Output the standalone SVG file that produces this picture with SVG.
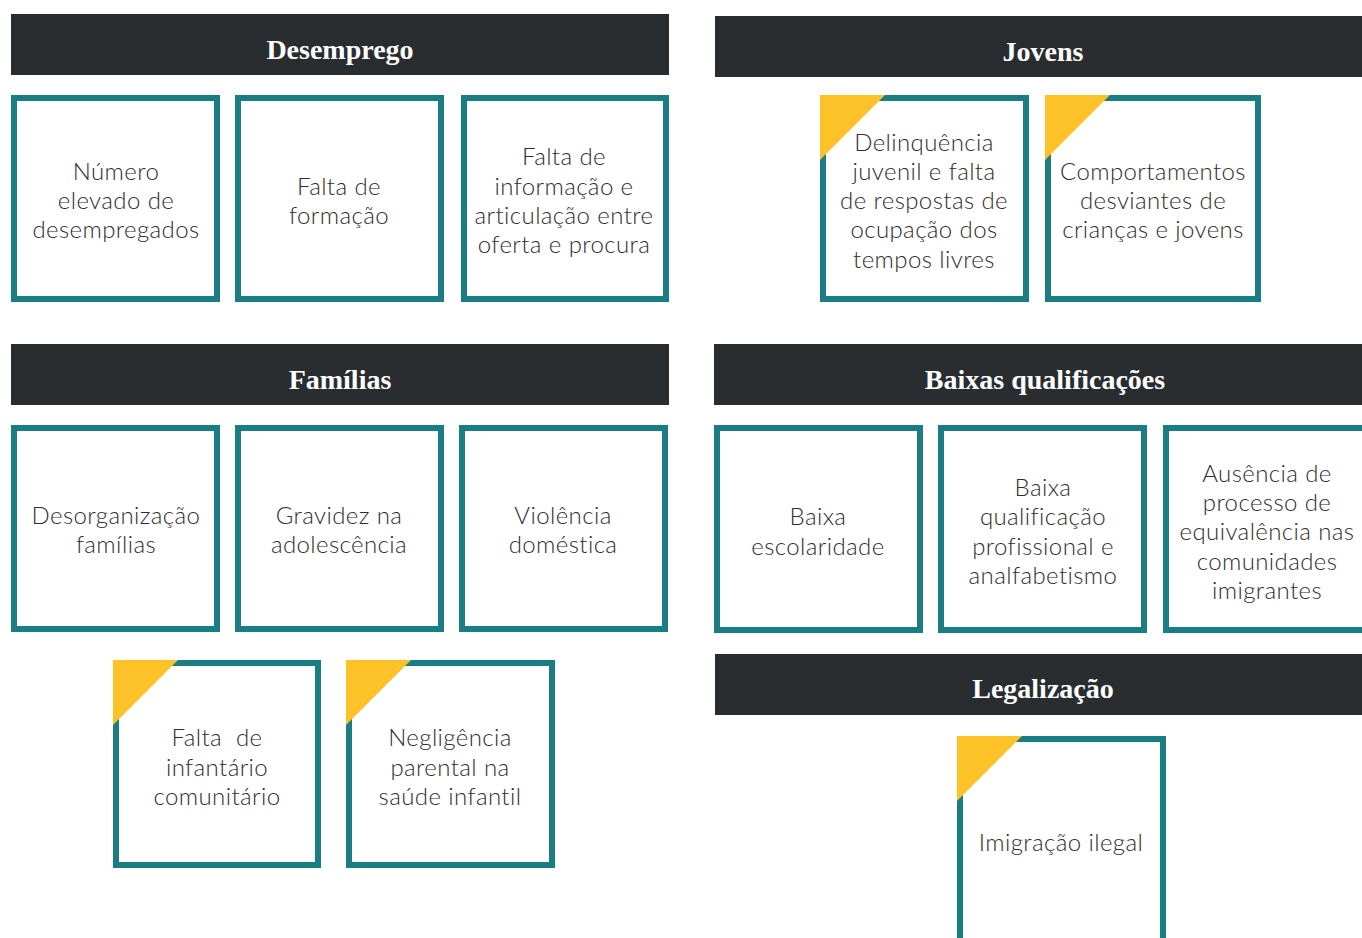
<svg xmlns="http://www.w3.org/2000/svg" width="1362" height="938" viewBox="0 0 1362 938">
<style>
.hdr{fill:#2a2d30}
.ht{font-family:"Liberation Serif",serif;font-weight:bold;font-size:28px;fill:#ffffff;text-anchor:middle}
.box{fill:#ffffff;stroke:#1b7d84;stroke-width:6}
.tri{fill:#fcc227}
.t{font-family:Lato,"Liberation Sans",sans-serif;font-weight:300;font-size:24px;letter-spacing:0.4px;fill:#2e2e2e;text-anchor:middle}
</style>
<rect width="1362" height="938" fill="#ffffff"/>
<g id="connectors"></g>

<g id="hdr-desemprego"><rect class="hdr" x="11" y="14" width="658" height="61"/><text class="ht" x="340" y="59">Desemprego</text></g>
<g id="hdr-jovens"><rect class="hdr" x="715" y="16" width="647" height="61"/><text class="ht" x="1043" y="61">Jovens</text></g>
<g id="hdr-familias"><rect class="hdr" x="11" y="344" width="658" height="61"/><text class="ht" x="340" y="389">Famílias</text></g>
<g id="hdr-baixas"><rect class="hdr" x="714" y="344" width="648" height="61"/><text class="ht" x="1045" y="389">Baixas qualificações</text></g>
<g id="hdr-legal"><rect class="hdr" x="715" y="654" width="647" height="61"/><text class="ht" x="1043" y="698">Legalização</text></g>

<g id="n-numero"><rect class="box" x="14" y="98" width="203" height="201"/>
<text class="t" x="116"><tspan x="116" y="180">Número</tspan><tspan x="116" y="209">elevado de</tspan><tspan x="116" y="238">desempregados</tspan></text></g>
<g id="n-formacao"><rect class="box" x="238" y="98" width="203" height="201"/>
<text class="t"><tspan x="339" y="195">Falta de</tspan><tspan x="339" y="224">formação</tspan></text></g>
<g id="n-informacao"><rect class="box" x="464" y="98" width="202" height="201"/>
<text class="t"><tspan x="564" y="165">Falta de</tspan><tspan x="564" y="195">informação e</tspan><tspan x="564" y="224">articulação entre</tspan><tspan x="564" y="253">oferta e procura</tspan></text></g>

<g id="n-delinquencia"><rect class="box" x="823" y="98" width="203" height="201"/><polygon class="tri" points="820,95 885,95 820,160"/>
<text class="t"><tspan x="924" y="151">Delinquência</tspan><tspan x="924" y="180">juvenil e falta</tspan><tspan x="924" y="209">de respostas de</tspan><tspan x="924" y="238">ocupação dos</tspan><tspan x="924" y="268">tempos livres</tspan></text></g>
<g id="n-comportamentos"><rect class="box" x="1048" y="98" width="210" height="201"/><polygon class="tri" points="1045,95 1110,95 1045,160"/>
<text class="t"><tspan x="1153" y="180">Comportamentos</tspan><tspan x="1153" y="209">desviantes de</tspan><tspan x="1153" y="238">crianças e jovens</tspan></text></g>

<g id="n-desorganizacao"><rect class="box" x="14" y="428" width="203" height="201"/>
<text class="t"><tspan x="116" y="524">Desorganização</tspan><tspan x="116" y="553">famílias</tspan></text></g>
<g id="n-gravidez"><rect class="box" x="238" y="428" width="203" height="201"/>
<text class="t"><tspan x="339" y="524">Gravidez na</tspan><tspan x="339" y="553">adolescência</tspan></text></g>
<g id="n-violencia"><rect class="box" x="462" y="428" width="203" height="201"/>
<text class="t"><tspan x="563" y="524">Violência</tspan><tspan x="563" y="553">doméstica</tspan></text></g>

<g id="n-infantario"><rect class="box" x="116" y="663" width="202" height="202"/><polygon class="tri" points="113,660 178,660 113,725"/>
<text class="t"><tspan x="217" y="746" xml:space="preserve">Falta  de</tspan><tspan x="217" y="776">infantário</tspan><tspan x="217" y="805">comunitário</tspan></text></g>
<g id="n-negligencia"><rect class="box" x="349" y="663" width="203" height="202"/><polygon class="tri" points="346,660 411,660 346,725"/>
<text class="t"><tspan x="450" y="746">Negligência</tspan><tspan x="450" y="776">parental na</tspan><tspan x="450" y="805">saúde infantil</tspan></text></g>

<g id="n-escolaridade"><rect class="box" x="717" y="428" width="203" height="202"/>
<text class="t"><tspan x="818" y="525">Baixa</tspan><tspan x="818" y="555">escolaridade</tspan></text></g>
<g id="n-qualificacao"><rect class="box" x="941" y="428" width="203" height="202"/>
<text class="t"><tspan x="1043" y="496">Baixa</tspan><tspan x="1043" y="525">qualificação</tspan><tspan x="1043" y="555">profissional e</tspan><tspan x="1043" y="584">analfabetismo</tspan></text></g>
<g id="n-equivalencia"><rect class="box" x="1166" y="428" width="203" height="202"/>
<text class="t"><tspan x="1267" y="482">Ausência de</tspan><tspan x="1267" y="511">processo de</tspan><tspan x="1267" y="540">equivalência nas</tspan><tspan x="1267" y="570">comunidades</tspan><tspan x="1267" y="599">imigrantes</tspan></text></g>

<g id="n-imigracao"><rect class="box" x="960" y="739" width="203" height="210"/><polygon class="tri" points="957,736 1022,736 957,801"/>
<text class="t"><tspan x="1061" y="851">Imigração ilegal</tspan></text></g>
</svg>
